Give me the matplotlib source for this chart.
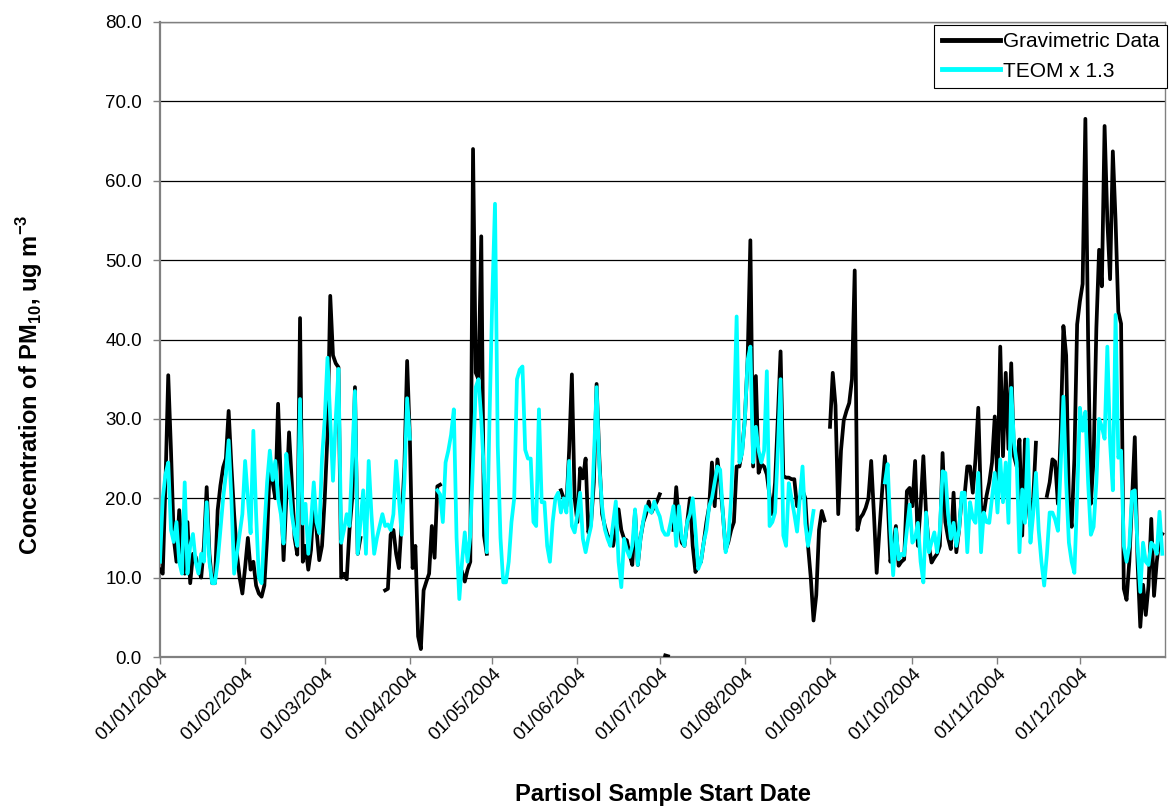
import numpy as np
import pandas as pd
import matplotlib
matplotlib.use('Agg')
import matplotlib.pyplot as plt
from matplotlib.ticker import FormatStrFormatter

N = np.nan

# ---- Gravimetric data (ug m-3), daily 2004 ----
grav_jan = [11, 10.5, 22, 35.5, 26, 15, 12, 18.5, 13, 10.5, 17, 9.3, 13, 12.6, 11, 10,
            14, 21.4, 13, 9.3, 9.3, 18.5, 21.6, 23.9, 25, 31, 24, 18, 13, 10, 8]
grav_feb = [11.3, 15, 11, 12, 9, 8, 7.6, 9, 15, 24.4, 22, 20, 31.9, 22, 12.2, 20, 28.3,
            22, 15, 12.9, 42.7, 12, 14, 11, 13.5, 20, 16, 12.2, 14]
grav_mar = [20, 28, 45.5, 38, 37, 36.5, 10, 10.5, 9.8, 16, 20, 34, 13, 15, N, N, N, N,
            N, N, N, N, 8.4, 8.6, 15.4, 16, 13, 11.2, 17, 24, 37.3]
grav_apr = [27.5, 11.2, 14, 2.6, 1.0, 8.4, 9.5, 10.5, 16.5, 12.5, 21.5, 21.7, N, N, N,
            N, N, N, N, 10.7, 9.5, 11, 12, 64, 35.8, 35, 53, 15.3, 13, N]
grav_may = [N] * 25 + [21, 20, 19, 26, 35.6, 20]
grav_jun = [17, 23.8, 22.5, 25, 15.7, 17, 22, 34.4, 25, 18, 16.5, 15.3, 15, 14, 16, 18.6,
            16, 14.9, 14.7, 13, 11.6, 18.4, 11.6, 15, 17, 18, 19.6, 18.2, 19, 19.6]
grav_jul = [20.5, N, 0.2, 0.1, N, 16, 21.4, 17, 14.4, 14, 17, 20, 14, 10.7, 11.5, 12,
            14.4, 17, 19, 24.5, 19, 24.9, 22, 18, 13.5, 14.5, 16, 17, 24, 24, 26]
grav_aug = [30, 37.4, 52.5, 24, 35.4, 23.2, 24.3, 24, 23, 20.3, 18, 22, 30, 38.5, 22.8,
            22.6, 22.6, 22.4, 22.4, 19, 20, 21, 20, 14, 10, 4.6, 7.8, 16, 18.4, 17.2, N]
grav_sep = [29, 35.8, 31.7, 18, 26, 29.8, 31, 32, 35, 48.7, 16, 17.5, 18, 18.8, 20, 24.7,
            18, 10.6, 16, 21, 25.3, 20, 12, 14, 16.5, 11.5, 12, 12.3, 20.9, 21.3]
grav_oct = [19, 24.7, 14, 19, 25.3, 18, 14, 11.9, 12.5, 13, 14, 25.7, 17, 15, 13.6, 20.7,
            13.2, 16, 20.3, 20.3, 24, 24, 20.7, 25, 31.4, 19, 18, 20.3, 22, 24.5, 30.3]
grav_nov = [22, 39.1, 25.3, 35.8, 26.2, 37, 25.3, 24, 27.4, 15.3, 27.4, 20, 16.5, 20, 27,
            N, N, N, 20.3, 22, 24.9, 24.6, 19.3, 28, 41.7, 38, 19.3, 16.4, 25, 41.9]
grav_dec = [44.8, 47, 67.8, 40, 19.3, 25, 41.4, 51.3, 46.7, 66.9, 55, 47.6, 63.7, 55, 43.5,
            42, 8.6, 7.2, 12, 19.8, 27.7, 12, 3.8, 9.1, 5.3, 9, 17.4, 7.7, 12, 15, 15.5]

# ---- TEOM x 1.3 (ug m-3), daily 2004 ----
teom_jan = [12, 20, 23, 24.5, 16, 14.5, 17, 12, 10.5, 22, 10.5, 14, 15.5, 12, 10.5, 13,
            12, 19.5, 12, 9.3, 9.3, 12, 16, 20, 23, 27.3, 20, 10.5, 13, 15.6, 18]
teom_feb = [24.7, 20, 15.6, 28.5, 18, 10, 9.3, 16, 22, 26, 22.3, 24.7, 20, 18, 14.3, 25.6,
            22, 18, 15.6, 14, 32.5, 16.8, 19.3, 13, 17, 22, 17, 15.6, 25]
teom_mar = [30, 37.7, 30, 22.2, 30, 36.3, 14.4, 16, 18, 16.5, 25, 33.5, 13, 17, 21, 13,
            24.7, 18, 13, 15, 16.5, 18, 16.5, 16.7, 16, 18, 24.7, 20, 15.4, 22, 32.6]
teom_apr = [27.5] + [N] * 9 + [21, 20.5, 17, 24.5, 26, 28, 31.2, 15, 7.3, 12, 15.7, 12,
                               15.3, 24.5, 34, 35, 30, 23, 13.2, 30]
teom_may = [45, 57.1, 26.6, 15, 9.4, 9.4, 12, 17, 20, 35, 36.2, 36.6, 26.1, 25, 25, 17,
            16.5, 31.2, 19.5, 19.5, 14, 12, 17, 20, 20.7, 18.2, 20, 18.2, 24.7, 16.5, 15.7]
teom_jun = [18, 20.7, 14.9, 13.2, 15, 16.5, 25, 34, 24, 19, 16.1, 14.9, 14, 16.8, 19.6, 12,
            8.8, 14.9, 13.5, 12.6, 14, 18.6, 11.6, 15, 17.2, 19, 18.5, 18.2, 19.6, 18.5]
teom_jul = [17.7, 16, 15.4, 15.4, 17, 19, 14, 19, 15, 14, 17, 18, 20, 16, 11.1, 12, 14.4,
            16, 19, 20, 22, 24, 23.6, 18, 13.2, 14.9, 20, 30, 42.9, 24.5, 25.7]
teom_aug = [30, 37.4, 39.1, 24.5, 29, 26, 24.5, 26, 36, 16.5, 17, 18.2, 26, 35, 15.3, 14,
            21.9, 20, 18, 15.8, 20, 24, 16.8, 14, 16, 18.4, N, N, N, N, N]
teom_sep = [N] * 20 + [22, 24.3, 16, 10.3, 16.1, 12.3, 13, 12.8, 16, 19.2]
teom_oct = [14.4, 15, 16.9, 12, 9.4, 18.2, 13.2, 14.5, 15.7, 13.2, 16, 23.4, 23.2, 18, 14.9,
            16.9, 14, 16, 20.7, 20.7, 13.2, 19.5, 17.5, 16.9, 23.2, 13.2, 18.2, 17, 16.9, 20, 23.2]
teom_nov = [18.2, 24.9, 19.5, 24.5, 16.9, 33.9, 27, 24.5, 13.2, 21.1, 16.9, 27.4, 14.4, 18,
            23.2, 16, 12, 9, 13, 18.2, 18.2, 17.3, 15.9, 24, 32.8, 22, 14.4, 12, 10.6, 20]
teom_dec = [31.4, 28.5, 30.9, 22, 15.4, 16.4, 22, 30, 29, 27.5, 39.1, 27, 21, 43.1, 25.1,
            26, 14, 12, 14, 20.8, 21, 14, 8.2, 14.4, 12, 11.6, 14.4, 14, 13, 18.3, 13]

y_ticks = [0, 10, 20, 30, 40, 50, 60, 70, 80]

grav = np.array(grav_jan + grav_feb + grav_mar + grav_apr + grav_may + grav_jun +
                grav_jul + grav_aug + grav_sep + grav_oct + grav_nov + grav_dec, dtype=float)
teom = np.array(teom_jan + teom_feb + teom_mar + teom_apr + teom_may + teom_jun +
                teom_jul + teom_aug + teom_sep + teom_oct + teom_nov + teom_dec, dtype=float)
dates = pd.date_range('2004-01-01', '2004-12-31', freq='D')
month_ticks = pd.date_range('2004-01-01', periods=12, freq='MS')

plt.rcParams['font.family'] = ['Liberation Sans', 'DejaVu Sans']
plt.rcParams['mathtext.fontset'] = 'custom'
plt.rcParams['mathtext.rm'] = 'Liberation Sans'
plt.rcParams['mathtext.bf'] = 'Liberation Sans:bold'

W, H = 1175, 810
fig = plt.figure(figsize=(W / 100, H / 100), dpi=100)
ax = fig.add_axes([160 / W, 1 - 657 / H, 1005 / W, (657 - 22) / H])

ax.plot(dates, grav, color='black', lw=2.7, label='Gravimetric Data', zorder=3)
ax.plot(dates, teom, color='#00FFFF', lw=2.7, label='TEOM x 1.3', zorder=4)

ax.set_ylim(0, 80)
ax.set_xlim(pd.Timestamp('2004-01-01'), pd.Timestamp('2005-01-01'))
ax.set_yticks(y_ticks)
ax.yaxis.set_major_formatter(FormatStrFormatter('%.1f'))
ax.set_xticks(month_ticks)
ax.set_xticklabels([d.strftime('%d/%m/%Y') for d in month_ticks], rotation=45,
                   ha='right', rotation_mode='anchor')
ax.grid(axis='y', color='black', lw=0.9)
ax.set_axisbelow(True)

for s in ['left', 'bottom']:
    ax.spines[s].set_color('#808080')
    ax.spines[s].set_linewidth(1.6)
for s in ['right', 'top']:
    ax.spines[s].set_color('#808080')
    ax.spines[s].set_linewidth(1.0)

ax.tick_params(axis='both', labelsize=13.5, color='#808080', length=5, width=1)
ax.tick_params(axis='x', pad=1)
ax.tick_params(axis='y', pad=8)

fig.text(663 / W, 1 - 795 / H, 'Partisol Sample Start Date', ha='center', va='center',
         fontsize=17, fontweight='bold')
fig.text(30 / W, 1 - 385 / H, r'Concentration of PM$_{\mathbf{10}}$, ug m$^{\mathbf{-3}}$',
         ha='center', va='center', rotation=90, fontsize=17, fontweight='bold')

leg = ax.legend(loc='upper right', bbox_to_anchor=(1167 / W, 1 - 25 / H),
                bbox_transform=fig.transFigure, fontsize=15, frameon=True, fancybox=False,
                edgecolor='black', framealpha=1, borderaxespad=0, handlelength=2.8,
                handletextpad=0.15, labelspacing=0.5, borderpad=0.35)
leg.get_frame().set_linewidth(0.8)
for line in leg.get_lines():
    line.set_linewidth(3.5)

fig.savefig('out.png', dpi=100)
